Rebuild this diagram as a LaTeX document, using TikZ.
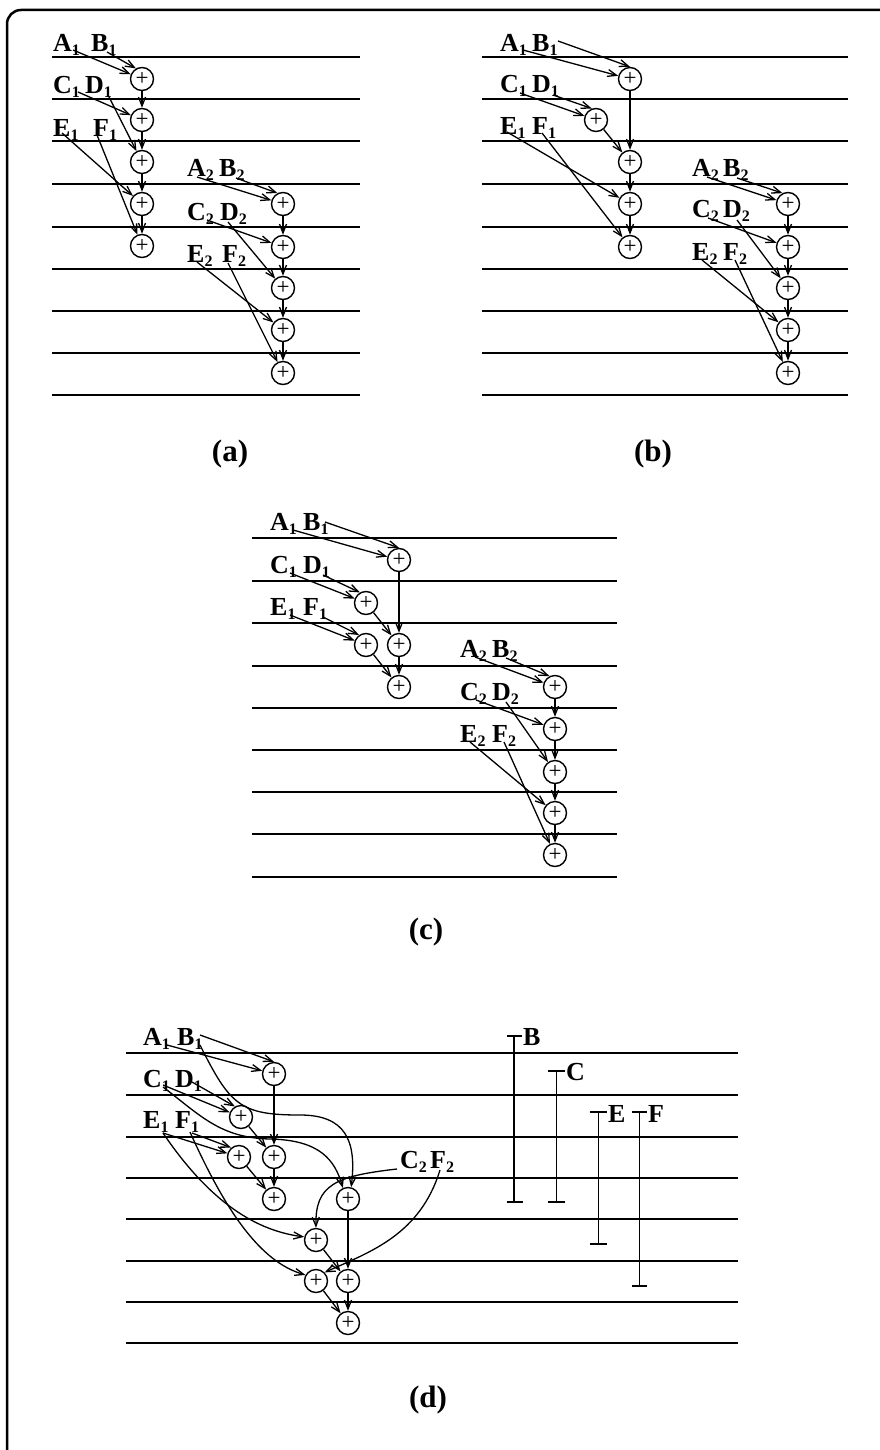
\documentclass[tikz,border=0pt]{standalone}
\usepackage{fontspec}
\setmainfont{Liberation Serif}
\usetikzlibrary{arrows.meta}
\newcommand\lsub[1]{\raisebox{-4pt}{\fontsize{16}{16}\selectfont #1}}
\begin{document}
\begin{tikzpicture}[x=1pt,y=-1pt,
  hl/.style={line width=1.8pt},
  add/.style={circle,draw,line width=1.4pt,minimum size=23pt,inner sep=0pt,font=\fontsize{23}{23}\selectfont},
  lab/.style={anchor=base west,inner sep=0pt,font=\fontsize{26}{26}\selectfont\bfseries},
  arr/.style={line width=1.3pt,-{Straight Barb[length=9pt,width=7pt]}},
  captxt/.style={font=\fontsize{31}{31}\selectfont\bfseries},
  bar/.style={line width=1.4pt}]
\useasboundingbox (0,0) rectangle (880,1450);
\clip (0,0) rectangle (880,1450);
\draw[line width=2.5pt,rounded corners=14pt] (7,10) rectangle (920,1480);

% ================= (a) =================
\foreach \y in {57,99,141,184,227,269,311,353,395} {\draw[hl] (52,\y) -- (360,\y);}
\node[lab] (aA1) at (53,52) {A\lsub1};
\node[lab] (aB1) at (91,52) {B\lsub1};
\node[lab] (aC1) at (53,94) {C\lsub1};
\node[lab] (aD1) at (85,94) {D\lsub1};
\node[lab] (aE1) at (53,137) {E\lsub1};
\node[lab] (aF1) at (93,137) {F\lsub1};
\node[add] (a1) at (142,79) {+};
\node[add] (a2) at (142,120) {+};
\node[add] (a3) at (142,162) {+};
\node[add] (a4) at (142,204) {+};
\node[add] (a5) at (142,246) {+};
\draw[arr] ([shift={(20,-2)}]aA1.base west) -- (a1);
\draw[arr] ([shift={(16,0)}]aB1.base west) -- (a1.120);
\draw[arr] ([shift={(25,-2)}]aC1.base west) -- (a2);
\draw[arr] ([shift={(23,1)}]aD1.base west) -- (a3);
\draw[arr] ([shift={(9,-4)}]aE1.base west) -- (a4);
\draw[arr] ([shift={(4,-2)}]aF1.base west) -- (a5);
\draw[arr] (a1) -- (a2);
\draw[arr] (a2) -- (a3);
\draw[arr] (a3) -- (a4);
\draw[arr] (a4) -- (a5);
\node[lab] (aA2) at (187,177) {A\lsub2};
\node[lab] (aB2) at (219,177) {B\lsub2};
\node[lab] (aC2) at (187,220) {C\lsub2};
\node[lab] (aD2) at (220,220) {D\lsub2};
\node[lab] (aE2) at (187,262) {E\lsub2};
\node[lab] (aF2) at (222,262) {F\lsub2};
\node[add] (a6) at (283,204) {+};
\node[add] (a7) at (283,247) {+};
\node[add] (a8) at (283,288) {+};
\node[add] (a9) at (283,330) {+};
\node[add] (a10) at (283,373) {+};
\draw[arr] ([shift={(10,0)}]aA2.base west) -- (a6);
\draw[arr] ([shift={(17,1)}]aB2.base west) -- (a6.117);
\draw[arr] ([shift={(20,0)}]aC2.base west) -- (a7);
\draw[arr] ([shift={(8,2)}]aD2.base west) -- (a8);
\draw[arr] ([shift={(10,0)}]aE2.base west) -- (a9);
\draw[arr] ([shift={(6,1)}]aF2.base west) -- (a10);
\draw[arr] (a6) -- (a7);
\draw[arr] (a7) -- (a8);
\draw[arr] (a8) -- (a9);
\draw[arr] (a9) -- (a10);
\node[captxt] (capa) at (230,454) {(a)};

% ================= (b) =================
\foreach \y in {57,99,141,184,227,269,311,353,395} {\draw[hl] (482,\y) -- (848,\y);}
\node[lab] (bA1) at (500,52) {A\lsub1};
\node[lab] (bB1) at (532,52) {B\lsub1};
\node[lab] (bC1) at (500,93) {C\lsub1};
\node[lab] (bD1) at (532,93) {D\lsub1};
\node[lab] (bE1) at (500,135) {E\lsub1};
\node[lab] (bF1) at (532,135) {F\lsub1};
\node[add] (b1) at (630,79) {+};
\node[add] (b2) at (596,120) {+};
\node[add] (b3) at (630,162) {+};
\node[add] (b4) at (630,204) {+};
\node[add] (b5) at (630,247) {+};
\draw[arr] ([shift={(23,-2)}]bA1.base west) -- (b1);
\draw[arr] ([shift={(26,-11)}]bB1.base west) -- (b1.90);
\draw[arr] ([shift={(20,0)}]bC1.base west) -- (b2);
\draw[arr] ([shift={(21,2)}]bD1.base west) -- (b2.110);
\draw[arr] ([shift={(7,-3)}]bE1.base west) -- (b4);
\draw[arr] ([shift={(10,-2)}]bF1.base west) -- (b5);
\draw[arr] (b1) -- (b3);
\draw[arr] (b2) -- (b3);
\draw[arr] (b3) -- (b4);
\draw[arr] (b4) -- (b5);
\node[lab] (bA2) at (692,177) {A\lsub2};
\node[lab] (bB2) at (723,177) {B\lsub2};
\node[lab] (bC2) at (692,218) {C\lsub2};
\node[lab] (bD2) at (723,218) {D\lsub2};
\node[lab] (bE2) at (692,260) {E\lsub2};
\node[lab] (bF2) at (723,260) {F\lsub2};
\node[add] (b6) at (788,204) {+};
\node[add] (b7) at (788,247) {+};
\node[add] (b8) at (788,288) {+};
\node[add] (b9) at (788,330) {+};
\node[add] (b10) at (788,373) {+};
\draw[arr] ([shift={(15,0)}]bA2.base west) -- (b6);
\draw[arr] ([shift={(14,1)}]bB2.base west) -- (b6.117);
\draw[arr] ([shift={(16,0)}]bC2.base west) -- (b7);
\draw[arr] ([shift={(14,2)}]bD2.base west) -- (b8);
\draw[arr] ([shift={(10,0)}]bE2.base west) -- (b9);
\draw[arr] ([shift={(12,0)}]bF2.base west) -- (b10);
\draw[arr] (b6) -- (b7);
\draw[arr] (b7) -- (b8);
\draw[arr] (b8) -- (b9);
\draw[arr] (b9) -- (b10);
\node[captxt] (capb) at (653,454) {(b)};

% ================= (c) =================
\foreach \y in {538,581,623,666,708,750,792,834,877} {\draw[hl] (252,\y) -- (617,\y);}
\node[lab] (cA1) at (270,530) {A\lsub1};
\node[lab] (cB1) at (303,530) {B\lsub1};
\node[lab] (cC1) at (270,573) {C\lsub1};
\node[lab] (cD1) at (303,573) {D\lsub1};
\node[lab] (cE1) at (270,615) {E\lsub1};
\node[lab] (cF1) at (303,615) {F\lsub1};
\node[add] (c1) at (399,560) {+};
\node[add] (c2) at (366,603) {+};
\node[add] (c3a) at (366,645) {+};
\node[add] (c3b) at (399,645) {+};
\node[add] (c4) at (399,687) {+};
\draw[arr] ([shift={(23,0)}]cA1.base west) -- (c1);
\draw[arr] ([shift={(22,-8)}]cB1.base west) -- (c1.90);
\draw[arr] ([shift={(20,0)}]cC1.base west) -- (c2);
\draw[arr] ([shift={(20,2)}]cD1.base west) -- (c2.120);
\draw[arr] ([shift={(20,0)}]cE1.base west) -- (c3a);
\draw[arr] ([shift={(20,2)}]cF1.base west) -- (c3a.125);
\draw[arr] (c1) -- (c3b);
\draw[arr] (c2) -- (c3b);
\draw[arr] (c3b) -- (c4);
\draw[arr] (c3a) -- (c4);
\node[lab] (cA2) at (460,657) {A\lsub2};
\node[lab] (cB2) at (492,657) {B\lsub2};
\node[lab] (cC2) at (460,700) {C\lsub2};
\node[lab] (cD2) at (492,700) {D\lsub2};
\node[lab] (cE2) at (460,742) {E\lsub2};
\node[lab] (cF2) at (492,742) {F\lsub2};
\node[add] (c6) at (555,687) {+};
\node[add] (c7) at (555,729) {+};
\node[add] (c8) at (555,772) {+};
\node[add] (c9) at (555,813) {+};
\node[add] (c10) at (555,855) {+};
\draw[arr] ([shift={(15,0)}]cA2.base west) -- (c6);
\draw[arr] ([shift={(14,1)}]cB2.base west) -- (c6.117);
\draw[arr] ([shift={(16,0)}]cC2.base west) -- (c7);
\draw[arr] ([shift={(14,2)}]cD2.base west) -- (c8);
\draw[arr] ([shift={(10,0)}]cE2.base west) -- (c9);
\draw[arr] ([shift={(12,0)}]cF2.base west) -- (c10);
\draw[arr] (c6) -- (c7);
\draw[arr] (c7) -- (c8);
\draw[arr] (c8) -- (c9);
\draw[arr] (c9) -- (c10);
\node[captxt] (capc) at (426,932) {(c)};

% ================= (d) =================
\foreach \y in {1053,1095,1137,1178,1219,1261,1302,1343} {\draw[hl] (126,\y) -- (738,\y);}
\node[lab] (dA1) at (143,1045) {A\lsub1};
\node[lab] (dB1) at (177,1045) {B\lsub1};
\node[lab] (dC1) at (143,1087) {C\lsub1};
\node[lab] (dD1) at (175,1087) {D\lsub1};
\node[lab] (dE1) at (143,1128) {E\lsub1};
\node[lab] (dF1) at (175,1128) {F\lsub1};
\node[lab] (dC2) at (400,1168) {C\lsub2};
\node[lab] (dF2) at (430,1168) {F\lsub2};
\node[add] (d1) at (274,1074) {+};
\node[add] (d2) at (241,1117) {+};
\node[add] (d3a) at (239,1157) {+};
\node[add] (d3b) at (274,1157) {+};
\node[add] (d4) at (274,1199) {+};
\node[add] (d5) at (348,1199) {+};
\node[add] (d6) at (316,1240) {+};
\node[add] (d7a) at (316,1281) {+};
\node[add] (d7b) at (348,1281) {+};
\node[add] (d8) at (348,1323) {+};
\draw[arr] ([shift={(24,0)}]dA1.base west) -- (d1);
\draw[arr] ([shift={(23,-10)}]dB1.base west) -- (d1.90);
\draw[arr] ([shift={(23,0)}]dB1.base west) .. controls (230,1105) and (240,1115) .. (300,1115)
   .. controls (345,1115) and (357,1140) .. (d5.75);
\draw[arr] ([shift={(20,-2)}]dC1.base west) -- (d2);
\draw[arr] ([shift={(20,0)}]dC1.base west) .. controls (200,1115) and (220,1138) .. (270,1139)
   .. controls (320,1140) and (335,1160) .. (d5.115);
\draw[arr] ([shift={(17,-5)}]dD1.base west) -- (d2.120);
\draw[arr] ([shift={(20,5)}]dE1.base west) -- (d3a);
\draw[arr] ([shift={(20,5)}]dE1.base west) .. controls (205,1195) and (250,1230) .. (d6.165);
\draw[arr] ([shift={(17,5)}]dF1.base west) -- (d3a.130);
\draw[arr] ([shift={(15,4)}]dF1.base west) .. controls (225,1210) and (260,1262) .. (d7a.150);
\draw[arr] ([shift={(-3,1)}]dC2.base west) .. controls (335,1176) and (315,1185) .. (d6.north);
\draw[arr] ([shift={(10,2)}]dF2.base west) .. controls (420,1235) and (370,1252) .. (d7a.45);
\draw[arr] (d1) -- (d3b);
\draw[arr] (d2) -- (d3b);
\draw[arr] (d3b) -- (d4);
\draw[arr] (d3a) -- (d4);
\draw[arr] (d5) -- (d7b);
\draw[arr] (d6) -- (d7b);
\draw[arr] (d7b) -- (d8);
\draw[arr] (d7a) -- (d8);
% intervals
\draw[bar] (507,1036) -- (522,1036) (514,1036) -- (514,1202) (507,1202) -- (523,1202);
\node[lab] (iB) at (523,1045) {B};
\draw[bar] (548,1071) -- (565,1071) (556.7,1071) -- (556.7,1202) (548,1202) -- (565,1202);
\node[lab] (iC) at (566,1080) {C};
\draw[bar] (590,1112) -- (607,1112) (598.3,1112) -- (598.3,1244) (590,1244) -- (607,1244);
\node[lab] (iE) at (608,1122) {E};
\draw[bar] (632,1112) -- (647,1112) (639.3,1112) -- (639.3,1286) (632,1286) -- (647,1286);
\node[lab] (iF) at (648,1122) {F};
\node[captxt] (capd) at (428,1400) {(d)};
\end{tikzpicture}
\end{document}
